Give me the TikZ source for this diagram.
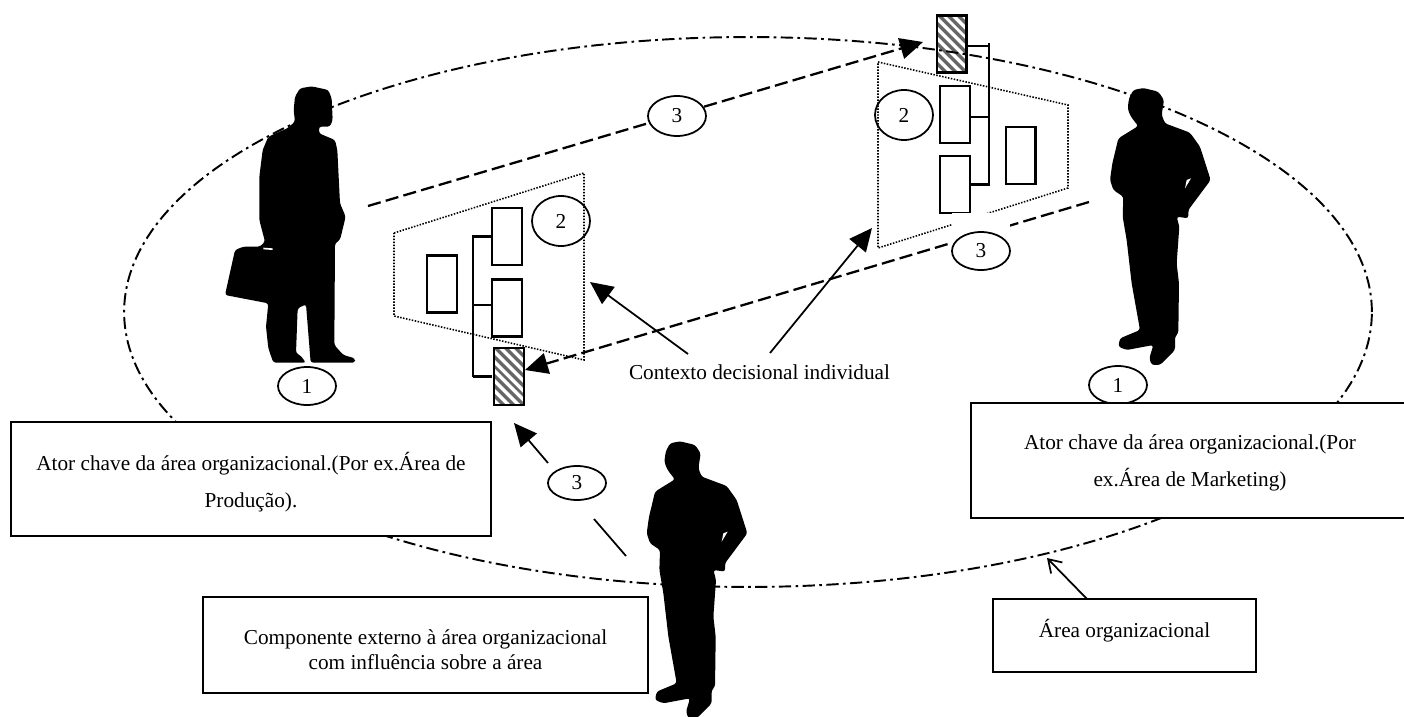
\documentclass[tikz,border=0pt]{standalone}
\usepackage{fontspec}
\setmainfont{Liberation Serif}
\usetikzlibrary{arrows.meta,shapes.geometric,patterns.meta}
\tikzset{
  numel/.style={ellipse,draw,line width=1pt,inner sep=0pt,minimum width=1.16cm,minimum height=0.76cm,font=\fontsize{12.1}{14}\selectfont},
  chart/.style={rectangle,draw,fill=white,line width=1.15pt,inner sep=0pt,minimum width=0.6cm,minimum height=1.14cm},
  hatched/.style={rectangle,draw,line width=1.15pt,inner sep=0pt,minimum width=0.6cm,minimum height=1.14cm,pattern={Lines[angle=135,distance=4pt,line width=2pt]},pattern color=black!60},
  infobox/.style={rectangle,draw,fill=white,line width=1.2pt,inner sep=0pt,align=center,font=\fontsize{12.1}{21}\selectfont},
  bar/.style={line width=1.15pt},
  dotline/.style={line width=0.9pt,dash pattern=on 0.85pt off 0.85pt},
  flow/.style={line width=1.3pt,dash pattern=on 7.5pt off 3pt},
  bigtip/.style={-{Triangle[length=13pt,width=12pt]}},
  pics/standingman/.style={code={
    \fill[black,rounded corners=1.5pt] (850,264) -- (820,270) -- (807,295) -- (803,325) -- (810,345) -- (820,360) -- (835,378) -- (775,415) -- (768,445) -- (757,490) -- (750,540) -- (760,570) -- (790,590) -- (788,650) -- (800,720) -- (815,850) -- (840,990) -- (780,1015) -- (775,1040) -- (800,1050) -- (880,1035) -- (868,1075) -- (875,1095) -- (900,1095) -- (945,1050) -- (945,1010) -- (955,1000) -- (957,850) -- (950,790) -- (958,680) -- (950,650) -- (985,655) -- (985,630) -- (1052,540) -- (1020,440) -- (990,398) -- (915,370) -- (905,345) -- (912,300) -- (895,275) -- cycle;
    \fill[white] (975,565) -- (980,540) -- (993,535) -- cycle;
  }}
}
\begin{document}
\begin{tikzpicture}[x=0.02cm,y=-0.02cm]
  \useasboundingbox (0,0) rectangle (1404,717);

  \node[hatched] (rectd) at (509,376.5) {};
  \node[hatched] (recth) at (951.5,44) {};
  \node[ellipse,draw,line width=1.1pt,inner sep=0pt,minimum width=24.96cm,minimum height=11cm,dash pattern=on 7pt off 2.5pt on 1.5pt off 2.5pt] (area) at (748,312) {};

  \draw[dotline] (394,233) -- (584,173) -- (584,360) -- (394,316) -- cycle;
  \draw[dotline] (878,62) -- (1068,105) -- (1068,188) -- (878,248) -- cycle;

  \node[chart] (recta) at (442,284) {};
  \node[chart] (rectb) at (507,236.5) {};
  \node[chart] (rectc) at (507,308) {};
  \node[chart] (recte) at (955,114.5) {};
  \node[chart] (rectf) at (955,184.5) {};
  \node[chart] (rectg) at (1020.5,155.5) {};

  \coordinate (leftbar) at (473,377);
  \coordinate (rightbar) at (989,43);
  \coordinate (tickc) at (473,305);
  \coordinate (ticke) at (989,117);
  \coordinate (tickh) at (989,46);
  \draw[bar] (rectb.west) -| (leftbar);
  \draw[bar] (tickc) -- (tickc -| rectc.west);
  \draw[bar] (rectd.west) -- (rectd.west -| leftbar);
  \draw[bar] (rectf.east) -| (rightbar);
  \draw[bar] (ticke) -- (ticke -| recte.east);
  \draw[bar] (tickh) -- (tickh -| recth.east);

  \coordinate (upstart) at (368,206);
  \coordinate (upend) at (923,42);
  \coordinate (lowstart) at (1089,202);
  \coordinate (lowend) at (525,370);
  \draw[flow,bigtip] (upstart) -- (upend);
  \draw[flow,bigtip] (lowstart) -- (lowend);

  \fill[white] (952,213) rectangle (1010,270);

  \node[numel] (oneleft) at (307,386) {1};
  \node[numel] (oneright) at (1118,385) {1};
  \node[numel,minimum height=1cm] (twoleft) at (561,221) {2};
  \node[numel,minimum height=1cm] (tworight) at (904,115) {2};
  \node[numel,fill=white,minimum height=0.8cm] (threeup) at (677,116) {3};
  \node[numel,fill=white] (threemid) at (981,251) {3};
  \node[numel,minimum height=0.68cm] (threelow) at (577,483) {3};

  \coordinate (extstart) at (626,556);
  \coordinate (extstop) at (594,519);
  \coordinate (extgo) at (548,463);
  \coordinate (extend) at (514,423);
  \draw[line width=1pt] (extstart) -- (extstop);
  \draw[line width=1pt,bigtip] (extgo) -- (extend);

  \node[font=\fontsize{12.1}{14}\selectfont,inner sep=0pt] (context) at (759.5,372) {Contexto decisional individual};
  \coordinate (ctxa) at (688,354);
  \coordinate (ctxb) at (590,282);
  \coordinate (ctxc) at (770,353);
  \coordinate (ctxd) at (872,228);
  \draw[line width=1pt,bigtip] (ctxa) -- (ctxb);
  \draw[line width=1pt,bigtip] (ctxc) -- (ctxd);

  \node[infobox,minimum width=9.6cm,minimum height=2.28cm] (boxleft) at (251,479) {\rule{0pt}{14pt}Ator chave da área organizacional.(Por ex.Área de\\Produção).};
  \node[infobox,minimum width=8.76cm,minimum height=2.3cm] (boxright) at (1190,460.5) {\rule{0pt}{11.5pt}Ator chave da área organizacional.(Por\\ex.Área de Marketing)};
  \node[infobox,minimum width=8.9cm,minimum height=1.92cm,font=\fontsize{12.1}{14.2}\selectfont] (boxext) at (425.5,645) {\rule{0pt}{13.7pt}Componente externo à área organizacional\\com influência sobre a área};
  \node[infobox,minimum width=5.26cm,minimum height=1.46cm] (boxarea) at (1124.5,635.5) {\rule[-8.3pt]{0pt}{0pt}Área organizacional};

  \coordinate (areatip) at (1047,558);
  \coordinate (areatail) at (1087,599);
  \draw[line width=1pt,-{Straight Barb[length=7pt,width=9pt]}] (areatail) -- (areatip);

  \begin{scope}[shift={(200,70)},scale=1/3]
    \fill[black,rounded corners=1.5pt] (335,49) -- (300,55) -- (285,80) -- (281,120) -- (285,155) -- (262,175) -- (205,200) -- (188,240) -- (178,320) -- (178,450) -- (195,515) -- (180,530) -- (130,530) -- (105,540) -- (75,675) -- (205,700) -- (198,770) -- (205,835) -- (220,878) -- (318,878) -- (300,855) -- (288,850) -- (293,715) -- (318,703) -- (332,878) -- (465,878) -- (465,865) -- (430,855) -- (403,825) -- (405,520) -- (420,510) -- (437,440) -- (420,400) -- (412,240) -- (405,210) -- (357,190) -- (357,170) -- (390,170) -- (398,150) -- (395,85) -- (385,60) -- cycle;
    \fill[white] (190,533) -- (218,535) -- (218,540) -- (190,538) -- cycle;
  \end{scope}
  \pic[scale=1/3] (manright) at (860,0) {standingman};
  \pic[scale=1/3] (manext) at (396.7,353.3) {standingman};
\end{tikzpicture}
\end{document}
